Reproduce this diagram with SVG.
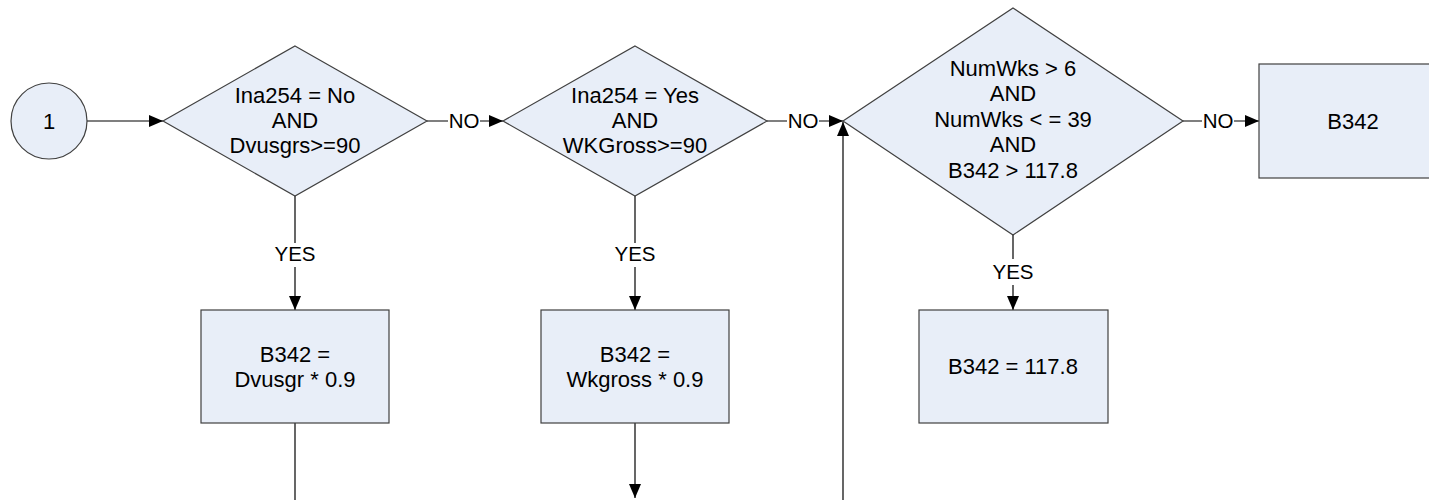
<svg xmlns="http://www.w3.org/2000/svg" width="1429" height="500" viewBox="0 0 1429 500">
<style>
.shape{fill:#E8EEF8;stroke:#404040;stroke-width:1.2}
.t{font-family:"Liberation Sans",Arial,sans-serif;font-size:22px;fill:#000;text-anchor:middle}
.lbl{font-family:"Liberation Sans",Arial,sans-serif;font-size:20.5px;fill:#000;text-anchor:middle}
.c{fill:none;stroke:#000;stroke-width:1.2}
.bg{fill:#fff}
</style>
<defs>
<marker id="arr" viewBox="0 0 14 12" refX="14" refY="6" markerWidth="14" markerHeight="12" markerUnits="userSpaceOnUse" orient="auto">
<path d="M0,0 L14,6 L0,12 Z" fill="#000"/>
</marker>
</defs>
<rect width="1429" height="500" fill="#fff"/>
<g id="connectors">
<path class="c" d="M87,121 H163" marker-end="url(#arr)"/>
<path class="c" d="M427,121 H503" marker-end="url(#arr)"/>
<rect class="bg" x="448" y="108" width="32" height="24"/>
<text class="lbl" x="464" y="128">NO</text>
<path class="c" d="M767,121 H843" marker-end="url(#arr)"/>
<rect class="bg" x="787" y="108" width="32" height="24"/>
<text class="lbl" x="803" y="128">NO</text>
<path class="c" d="M1183,121 H1259" marker-end="url(#arr)"/>
<rect class="bg" x="1202" y="108" width="32" height="24"/>
<text class="lbl" x="1218" y="128">NO</text>
<path class="c" d="M295,196 V310" marker-end="url(#arr)"/>
<rect class="bg" x="274" y="243" width="42" height="24"/>
<text class="lbl" x="295" y="261">YES</text>
<path class="c" d="M635,196 V310" marker-end="url(#arr)"/>
<rect class="bg" x="614" y="243" width="42" height="24"/>
<text class="lbl" x="635" y="261">YES</text>
<path class="c" d="M1013,235 V310" marker-end="url(#arr)"/>
<rect class="bg" x="992" y="259" width="42" height="26"/>
<text class="lbl" x="1013" y="279">YES</text>
<path class="c" d="M295,423 V500"/>
<path class="c" d="M635,423 V498" marker-end="url(#arr)"/>
<path class="c" d="M843,500 V122" marker-end="url(#arr)"/>
</g>
<g id="start">
<circle class="shape" cx="49" cy="121" r="38"/>
<text class="t" x="49" y="129">1</text>
</g>
<g id="decision1">
<polygon class="shape" points="295,46 427,121 295,196 163,121"/>
<text class="t" x="295" y="103">Ina254 = No</text>
<text class="t" x="295" y="128">AND</text>
<text class="t" x="295" y="153">Dvusgrs&gt;=90</text>
</g>
<g id="decision2">
<polygon class="shape" points="635,46 767,121 635,196 503,121"/>
<text class="t" x="635" y="103">Ina254 = Yes</text>
<text class="t" x="635" y="128">AND</text>
<text class="t" x="635" y="153">WKGross&gt;=90</text>
</g>
<g id="decision3">
<polygon class="shape" points="1013,8 1183,121 1013,235 843,121"/>
<text class="t" x="1013" y="76">NumWks &gt; 6</text>
<text class="t" x="1013" y="101">AND</text>
<text class="t" x="1013" y="127">NumWks &lt; = 39</text>
<text class="t" x="1013" y="152">AND</text>
<text class="t" x="1013" y="178">B342 &gt; 117.8</text>
</g>
<g id="box1">
<rect class="shape" x="201" y="310" width="188" height="113"/>
<text class="t" x="295" y="362">B342 =</text>
<text class="t" x="295" y="387">Dvusgr * 0.9</text>
</g>
<g id="box2">
<rect class="shape" x="541" y="310" width="188" height="113"/>
<text class="t" x="635" y="362">B342 =</text>
<text class="t" x="635" y="387">Wkgross * 0.9</text>
</g>
<g id="box3">
<rect class="shape" x="919" y="310" width="189" height="113"/>
<text class="t" x="1013" y="374">B342 = 117.8</text>
</g>
<g id="box4">
<rect class="shape" x="1259" y="64" width="189" height="114"/>
<text class="t" x="1353" y="129">B342</text>
</g>
</svg>
